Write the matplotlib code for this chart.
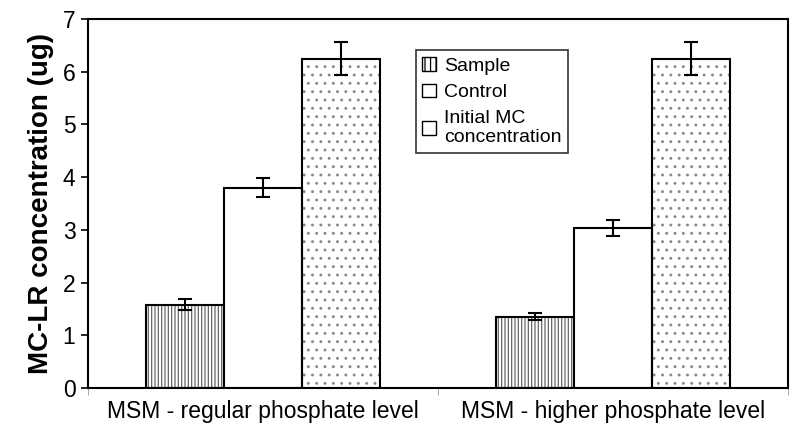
import matplotlib.pyplot as plt
import numpy as np

plt.rcParams['font.family'] = ['Liberation Sans', 'DejaVu Sans']
plt.rcParams['hatch.linewidth'] = 0.9

groups = ['MSM - regular phosphate level', 'MSM - higher phosphate level']
series = ['Sample', 'Control', 'Initial MC\nconcentration']
sample = [1.58, 1.35]
sample_err = [0.10, 0.07]
control = [3.80, 3.03]
control_err = [0.18, 0.15]
initial = [6.25, 6.25]
initial_err = [0.32, 0.32]

fig = plt.figure(figsize=(8, 4.32), dpi=100)
ax = fig.add_axes([0.11, 0.102, 0.875, 0.854])

x = np.arange(len(groups))
w = 0.222
ek = dict(ecolor='black', capsize=5, elinewidth=1.5, capthick=1.5)

# hatch fill drawn in grey, outline drawn on top in black
ax.bar(x - w, sample, w, color='white', edgecolor='#666666', linewidth=0,
       hatch='|||||')
ax.bar(x + w, initial, w, color='white', edgecolor='#888888', linewidth=0,
       hatch='..')
ax.bar(x - w, sample, w, yerr=sample_err, fill=False, edgecolor='black',
       linewidth=1.5, error_kw=ek)
ax.bar(x, control, w, yerr=control_err, color='white', edgecolor='black',
       linewidth=1.5, error_kw=ek)
ax.bar(x + w, initial, w, yerr=initial_err, fill=False, edgecolor='black',
       linewidth=1.5, error_kw=ek)

ax.set_xlim(-0.5, 1.5)
ax.set_ylim(0, 7)
ax.set_yticks(range(0, 8))
ax.set_xticks(x)
ax.set_xticklabels(groups)
ax.set_xticks([-0.5, 0.5, 1.5], minor=True)
ax.tick_params(axis='x', which='major', length=0, labelsize=16.5, pad=9)
ax.tick_params(axis='x', which='minor', length=5, color='#999999')
ax.tick_params(axis='y', labelsize=16.5, length=5, width=1.2, pad=4)
for s in ax.spines.values():
    s.set_linewidth(1.5)

ax.set_ylabel('MC-LR concentration (ug)', fontsize=20, fontweight='bold',
              labelpad=6)

handles = [plt.Rectangle((0, 0), 1, 1, facecolor='white', edgecolor='black', hatch='|||'),
           plt.Rectangle((0, 0), 1, 1, facecolor='white', edgecolor='black'),
           plt.Rectangle((0, 0), 1, 1, facecolor='white', edgecolor='black')]
leg = ax.legend(handles, series, loc='upper left', bbox_to_anchor=(0.468, 0.915),
                fontsize=14, frameon=True, fancybox=False, edgecolor='black',
                handlelength=0.7, handleheight=0.7, handletextpad=0.4,
                borderpad=0.35, labelspacing=0.45, borderaxespad=0)
leg.get_frame().set_linewidth(1.2)

fig.savefig('out.png', dpi=100)
